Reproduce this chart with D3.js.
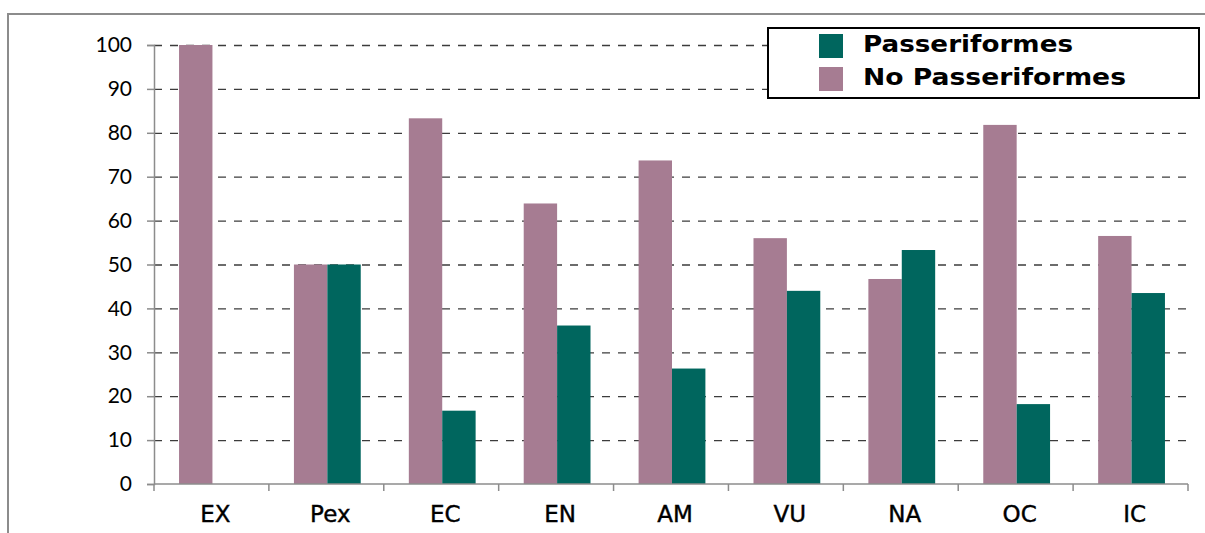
<!DOCTYPE html>
<html>
<head>
<meta charset="utf-8">
<script src="https://cdn.jsdelivr.net/npm/d3@7"></script>
<style>
  html, body { margin: 0; padding: 0; background: #fff; }
  svg { display: block; }
</style>
</head>
<body>
<svg id="chart" width="1205" height="533"></svg>
<script>
// Threat categories along the x axis
const categories = ["EX", "Pex", "EC", "EN", "AM", "VU", "NA", "OC", "IC"];
// Share (%) of species in each category
const noPasseriformes = [100, 50, 83.3, 63.9, 73.7, 56.0, 46.7, 81.8, 56.5];
const passeriformes   = [0, 50, 16.7, 36.1, 26.3, 44.0, 53.3, 18.2, 43.5];
const seriesNames = ["No Passeriformes", "Passeriformes"];
const legendOrder = ["Passeriformes", "No Passeriformes"];
const yTicks = [0, 10, 20, 30, 40, 50, 60, 70, 80, 90, 100];

const colors = { "Passeriformes": "#00665e", "No Passeriformes": "#a67c92" };

const svg = d3.select("#chart");
const plot = { left: 154, right: 1188, top: 45, bottom: 484 };

const x0 = d3.scaleBand().domain(categories).range([plot.left, plot.right]).padding(0);
const x1 = d3.scaleBand().domain(seriesNames).range([0, x0.bandwidth()]).paddingInner(0).paddingOuter(0.72);
const y = d3.scaleLinear().domain([0, 100]).range([plot.bottom, plot.top]);

const rows = categories.map((c, i) => ({
  cat: c,
  vals: [
    { key: "No Passeriformes", v: noPasseriformes[i] },
    { key: "Passeriformes", v: passeriformes[i] }
  ]
}));

// Outer frame
svg.append("rect")
  .attr("x", 8).attr("y", 14)
  .attr("width", 1300).attr("height", 600)
  .attr("fill", "none").attr("stroke", "#8c8c8c").attr("stroke-width", 2);

// Dashed gridlines
const grid = svg.append("g").attr("transform", `translate(${plot.left},0)`)
  .call(d3.axisLeft(y).tickValues(yTicks.filter(t => t > 0)).tickSize(-(plot.right - plot.left)).tickFormat(""));
grid.select(".domain").remove();
grid.selectAll("line").attr("stroke", "#3c3c3c").attr("stroke-width", 1.3).attr("stroke-dasharray", "8,8");

// Bars
const groups = svg.append("g").selectAll("g").data(rows).join("g")
  .attr("transform", d => `translate(${x0(d.cat) + 1},0)`);
groups.selectAll("rect").data(d => d.vals).join("rect")
  .attr("x", d => x1(d.key))
  .attr("width", x1.bandwidth())
  .attr("y", d => y(d.v))
  .attr("height", d => y(0) - y(d.v))
  .attr("fill", d => colors[d.key]);

// Y axis
const yAxis = svg.append("g").attr("transform", `translate(${plot.left},0)`)
  .call(d3.axisLeft(y).tickValues(yTicks).tickSize(7).tickPadding(15));
yAxis.select(".domain").attr("stroke", "#8c8c8c").attr("stroke-width", 1.5);
yAxis.selectAll(".tick line").attr("stroke", "#8c8c8c").attr("stroke-width", 1.5);
yAxis.selectAll(".tick text")
  .attr("font-family", "Lato, 'Open Sans', sans-serif")
  .attr("font-size", 21).attr("fill", "#000");

// X axis line with boundary ticks
const bounds = categories.map(c => x0(c)).concat([plot.right]);
const xAxis = svg.append("g");
xAxis.append("line")
  .attr("x1", plot.left).attr("x2", plot.right)
  .attr("y1", plot.bottom).attr("y2", plot.bottom)
  .attr("stroke", "#8c8c8c").attr("stroke-width", 1.5);
xAxis.selectAll("line.bt").data(bounds).join("line").attr("class", "bt")
  .attr("x1", d => d).attr("x2", d => d)
  .attr("y1", plot.bottom).attr("y2", plot.bottom + 7)
  .attr("stroke", "#8c8c8c").attr("stroke-width", 1.5);
xAxis.selectAll("text").data(categories).join("text")
  .attr("x", d => x0(d) + x0.bandwidth() / 2 + 4)
  .attr("y", 522)
  .attr("text-anchor", "middle")
  .attr("font-family", "'DejaVu Sans', sans-serif")
  .attr("font-size", 23)
  .attr("fill", "#000")
  .attr("stroke", "#000").attr("stroke-width", 0.4)
  .text(d => d);

// Legend
const legend = svg.append("g");
legend.append("rect")
  .attr("x", 768).attr("y", 28).attr("width", 431).attr("height", 70)
  .attr("fill", "#fff").attr("stroke", "#000").attr("stroke-width", 2);
const li = legend.selectAll("g.item").data(legendOrder).join("g").attr("class", "item")
  .attr("transform", (d, i) => `translate(819,${34 + i * 33})`);
li.append("rect").attr("width", 24).attr("height", 24).attr("fill", d => colors[d]);
li.append("text")
  .attr("x", 44).attr("y", 18)
  .attr("font-family", "'DejaVu Sans', sans-serif")
  .attr("font-weight", "bold")
  .attr("font-size", 23)
  .attr("fill", "#000")
  .attr("textLength", d => d === "Passeriformes" ? 210 : 263)
  .attr("lengthAdjust", "spacingAndGlyphs")
  .text(d => d);
</script>
</body>
</html>
